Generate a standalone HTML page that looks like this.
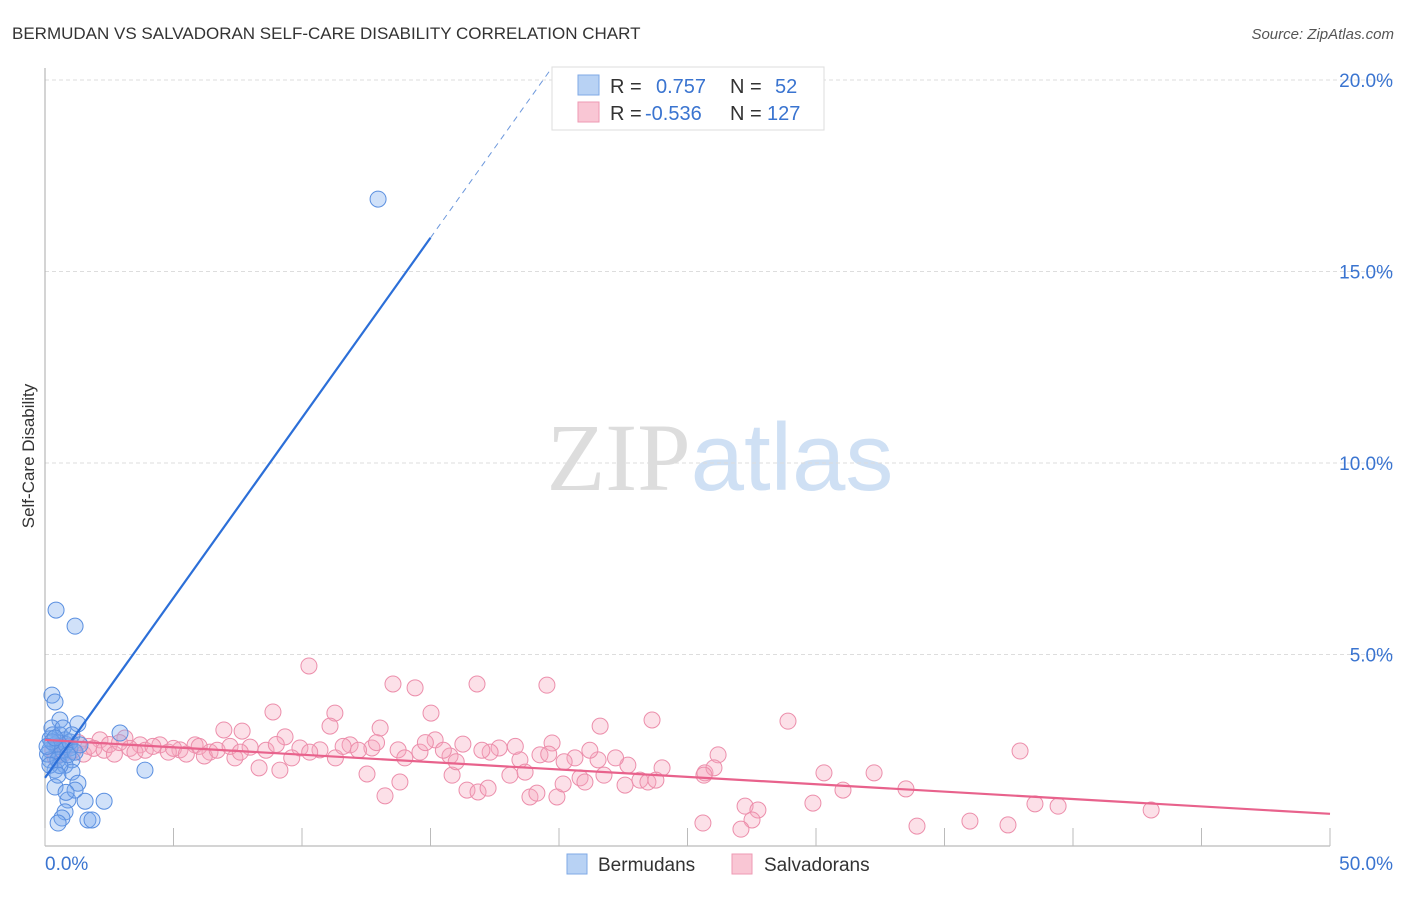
<!DOCTYPE html>
<html><head><meta charset="utf-8"><style>
body{margin:0;background:#fff;font-family:"Liberation Sans",sans-serif}
svg text{font-family:"Liberation Sans",sans-serif}
</style></head><body>
<svg id="chart" width="1406" height="892" viewBox="0 0 1406 892" xmlns="http://www.w3.org/2000/svg">
<text x="12" y="39" font-size="17" fill="#333">BERMUDAN VS SALVADORAN SELF-CARE DISABILITY CORRELATION CHART</text>
<text x="1394" y="39" font-size="15" fill="#555" text-anchor="end" font-style="italic">Source: ZipAtlas.com</text>
<text x="720" y="490" font-size="96" text-anchor="middle"><tspan fill="#ddd" font-family="Liberation Serif">ZIP</tspan><tspan fill="#cfe0f4">atlas</tspan></text>
<text transform="translate(34,456) rotate(-90)" font-size="17" fill="#333" text-anchor="middle">Self-Care Disability</text>
<g id="grid"></g><g id="axes"></g><g id="pts"></g><g id="lines"></g>
<g>
<rect x="552" y="67" width="272" height="63" fill="#fff" stroke="#ddd"/>
<rect x="578" y="75" width="21" height="20" fill="#b8d2f4" stroke="#7fa9e6"/>
<rect x="578" y="102" width="21" height="20" fill="#f9c6d4" stroke="#ee9ab3"/>
<text x="610" y="93" font-size="20" fill="#333">R = </text><text x="656" y="93" font-size="20" fill="#3a74d0">0.757</text>
<text x="730" y="93" font-size="20" fill="#333">N = </text><text x="775" y="93" font-size="20" fill="#3a74d0">52</text>
<text x="610" y="120" font-size="20" fill="#333">R = </text><text x="645" y="120" font-size="20" fill="#3a74d0">-0.536</text>
<text x="730" y="120" font-size="20" fill="#333">N = </text><text x="767" y="120" font-size="20" fill="#3a74d0">127</text>
</g>
<g>
<rect x="567" y="854" width="20" height="20" fill="#b8d2f4" stroke="#7fa9e6"/>
<text x="598" y="871" font-size="19" fill="#333">Bermudans</text>
<rect x="732" y="854" width="20" height="20" fill="#f9c6d4" stroke="#ee9ab3"/>
<text x="764" y="871" font-size="19" fill="#333">Salvadorans</text>
</g>
</svg>
<script>
const yTicks=[5,10,15,20];
const yTickLabels=["5.0%","10.0%","15.0%","20.0%"];
const xTicks=[0,5,10,15,20,25,30,35,40,45,50];
const bermudans=[[12.96,16.89],[0.43,6.16],[1.17,5.74],[0.27,3.94],[0.39,3.76],[0.58,3.29],[0.27,3.08],[1.28,3.19],[2.92,2.95],[3.89,1.98],[0.58,2.9],[0.78,2.77],[0.39,2.64],[0.19,2.51],[0.97,2.56],[0.58,2.38],[0.19,2.25],[1.05,2.25],[0.78,2.11],[0.39,1.98],[1.05,1.93],[0.39,1.54],[1.28,1.64],[0.89,1.2],[1.56,1.17],[2.3,1.17],[1.17,1.46],[0.78,0.89],[0.66,0.73],[0.51,0.6],[1.67,0.68],[1.83,0.68],[0.2,2.8],[0.5,2.6],[0.66,2.5],[0.1,2.4],[0.82,2.65],[0.3,2.9],[0.97,2.72],[0.5,2.25],[1.17,2.45],[0.27,2.72],[0.08,2.6],[0.58,2.1],[0.89,2.38],[0.7,3.08],[0.39,2.82],[1.05,2.9],[1.36,2.64],[0.19,2.11],[0.5,1.85],[0.82,1.4]];
const salvadorans=[[10.27,4.7],[13.54,4.23],[14.4,4.13],[16.81,4.23],[19.53,4.2],[8.87,3.5],[11.28,3.47],[15.02,3.47],[21.6,3.13],[23.62,3.29],[28.91,3.26],[37.94,2.48],[6.96,3.03],[7.67,3.0],[13.04,3.08],[19.73,2.69],[15.18,2.77],[16.26,2.66],[17.67,2.56],[11.09,3.13],[9.34,2.85],[5.84,2.64],[4.47,2.64],[2.14,2.77],[3.11,2.82],[3.7,2.64],[5.25,2.51],[6.42,2.45],[7.98,2.58],[9.92,2.56],[10.7,2.51],[11.87,2.64],[12.72,2.56],[13.74,2.51],[14.59,2.45],[15.76,2.35],[17.32,2.45],[18.48,2.25],[19.26,2.38],[20.62,2.3],[21.52,2.25],[22.68,2.11],[24.01,2.04],[25.68,1.91],[26.19,2.38],[26.03,2.04],[7.39,2.3],[8.33,2.04],[9.14,1.98],[12.53,1.88],[13.81,1.67],[13.23,1.31],[15.84,1.85],[16.42,1.46],[16.85,1.41],[17.24,1.51],[18.09,1.85],[18.68,1.93],[18.87,1.28],[19.92,1.28],[19.14,1.38],[20.16,1.62],[20.82,1.78],[21.01,1.67],[21.75,1.85],[22.57,1.59],[23.15,1.72],[23.46,1.67],[23.77,1.72],[25.64,1.85],[27.24,1.04],[27.74,0.94],[27.51,0.68],[27.08,0.44],[25.6,0.6],[29.88,1.12],[30.31,1.91],[31.05,1.46],[32.26,1.91],[33.5,1.49],[33.93,0.52],[35.99,0.65],[37.47,0.55],[38.52,1.1],[39.42,1.04],[43.04,0.94],[0.3,2.5],[0.5,2.7],[0.7,2.4],[0.9,2.6],[1.1,2.5],[1.3,2.7],[1.5,2.4],[1.7,2.6],[1.9,2.55],[2.3,2.5],[2.5,2.65],[2.7,2.4],[2.9,2.7],[3.3,2.55],[3.5,2.45],[3.9,2.5],[4.2,2.6],[4.8,2.45],[5.0,2.55],[5.5,2.4],[6.0,2.6],[6.2,2.35],[6.7,2.5],[7.2,2.6],[7.6,2.45],[8.6,2.5],[9.0,2.65],[9.6,2.3],[10.3,2.45],[11.3,2.3],[11.6,2.6],[12.2,2.5],[12.9,2.7],[14.0,2.3],[14.8,2.7],[15.5,2.5],[16.0,2.2],[17.0,2.5],[18.3,2.6],[19.6,2.4],[20.2,2.2],[21.2,2.5],[22.2,2.3],[0.4,2.3]];
const blueFit=[1.78,0.94];   // intercept, slope
const pinkFit=[2.77,-0.0386];
const NS="http://www.w3.org/2000/svg";
const X=v=>45+v*25.7, Y=v=>846-v*38.3;
function mk(p,tag,a){const e=document.createElementNS(NS,tag);for(const k in a)e.setAttribute(k,a[k]);p.appendChild(e);return e;}
const grid=document.getElementById('grid'),axes=document.getElementById('axes'),pts=document.getElementById('pts'),lines=document.getElementById('lines');
yTicks.forEach((t,i)=>{
 const l=mk(grid,'line',{x1:45,x2:1394,y1:Y(t),y2:Y(t),stroke:'#ddd','stroke-dasharray':'4,3'});
 
 
 const tx=mk(axes,'text',{x:1393,y:Y(t)+7,'font-size':19,fill:'#3a74d0','text-anchor':'end'});
 tx.textContent=yTickLabels[i];
 
 
});
const ax=mk(axes,'line',{x1:45,x2:45,y1:68,y2:846,stroke:'#aaa'});


const bx=mk(axes,'line',{x1:45,x2:1330,y1:846,y2:846,stroke:'#aaa'});


xTicks.forEach(t=>{const l=mk(axes,'line',{x1:X(t),x2:X(t),y1:828,y2:846,stroke:'#bbb'});
 
 });
const l0=mk(axes,'text',{x:45,y:870,'font-size':19,fill:'#3a74d0'});l0.textContent=xTicks[0].toFixed(1)+'%';


const l1=mk(axes,'text',{x:1393,y:870,'font-size':19,fill:'#3a74d0','text-anchor':'end'});l1.textContent=xTicks[xTicks.length-1].toFixed(1)+'%';


salvadorans.forEach(p=>{const c=mk(pts,'circle',{cx:X(p[0]),cy:Y(p[1]),r:8,fill:'rgba(246,166,190,0.35)',stroke:'#ec8eab','stroke-width':1});
 
 });
bermudans.forEach(p=>{const c=mk(pts,'circle',{cx:X(p[0]),cy:Y(p[1]),r:8,fill:'rgba(120,170,238,0.35)',stroke:'#5a8fe0','stroke-width':1});
 
 });
const bf=x=>blueFit[0]+blueFit[1]*x;
const b1=mk(lines,'line',{x1:X(0),y1:Y(bf(0)),x2:X(15),y2:Y(bf(15)),stroke:'#2c6fd8','stroke-width':2.2});


const xe=(20.3-blueFit[0])/blueFit[1];
const b2=mk(lines,'line',{x1:X(15),y1:Y(bf(15)),x2:X(xe),y2:Y(bf(xe)),stroke:'#6d98dc','stroke-width':1,'stroke-dasharray':'6,5'});


const pf=x=>pinkFit[0]+pinkFit[1]*x;
const p1=mk(lines,'line',{x1:X(0),y1:Y(pf(0)),x2:X(50),y2:Y(pf(50)),stroke:'#e8628c','stroke-width':2.2});


</script>
</body></html>
